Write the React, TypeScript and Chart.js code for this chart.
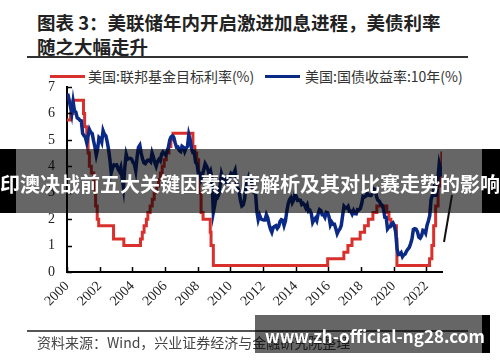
import React, { useEffect, useRef } from "react";
import { Chart, registerables } from "chart.js";

Chart.register(...registerables);

// ---------- text ----------
const titleLines = ["图表 3：美联储年内开启激进加息进程，美债利率", "随之大幅走升"];
const legendLabels = ["美国:联邦基金目标利率(%)", "美国:国债收益率:10年(%)"];
const sourceText = "资料来源：Wind，兴业证券经济与金融研究院整理";
const bannerText = "印澳决战前五大关键因素深度解析及其对比赛走势的影响";
const watermarkText = "www.zh-official-ng28.com";

// ---------- axes ----------
const xMin = 2000;
const xMax = 2022.96;
const xStep = 2;
const yTickValues = [0, 1, 2, 3, 4, 5, 6, 7];

// ---------- Fed funds target rate (upper bound), change dates as decimal years ----------
const fedDates = [
  2000.0, 2000.22, 2000.37, 2001.01, 2001.08, 2001.21, 2001.29, 2001.37, 2001.49, 2001.64,
  2001.71, 2001.75, 2001.85, 2001.94, 2002.85, 2003.48, 2004.5, 2004.61, 2004.72, 2004.86,
  2004.95, 2005.09, 2005.22, 2005.34, 2005.49, 2005.6, 2005.72, 2005.83, 2005.95, 2006.08,
  2006.24, 2006.36, 2006.49, 2007.71, 2007.83, 2007.94, 2008.06, 2008.08, 2008.21, 2008.33,
  2008.77, 2008.82, 2008.96, 2015.96, 2016.95, 2017.2, 2017.45, 2017.95, 2018.22, 2018.45,
  2018.73, 2018.97, 2019.58, 2019.71, 2019.83, 2020.17, 2020.2, 2022.2, 2022.34, 2022.45,
  2022.57, 2022.72, 2022.84, 2022.95,
];
const fedRates = [
  5.75, 6.0, 6.5, 6.0, 5.5, 5.0, 4.5, 4.0, 3.75, 3.5,
  3.0, 2.5, 2.0, 1.75, 1.25, 1.0, 1.25, 1.5, 1.75, 2.0,
  2.25, 2.5, 2.75, 3.0, 3.25, 3.5, 3.75, 4.0, 4.25, 4.5,
  4.75, 5.0, 5.25, 4.75, 4.5, 4.25, 3.5, 3.0, 2.25, 2.0,
  1.5, 1.0, 0.25, 0.5, 0.75, 1.0, 1.25, 1.5, 1.75, 2.0,
  2.25, 2.5, 2.25, 2.0, 1.75, 1.25, 0.25, 0.5, 1.0, 1.75,
  2.5, 3.25, 4.0, 4.5,
];

// ---------- 10-year Treasury yield, monthly ----------
const yieldStartYear = 2000;
const yield10y = [
  // 2000
  6.75, 6.52, 6.26, 5.99, 6.44, 6.1, 6.05, 5.83, 5.8, 5.74, 5.72, 5.24,
  // 2001
  5.16, 5.1, 4.89, 5.14, 5.39, 5.28, 5.24, 4.97, 4.73, 4.42, 4.65, 5.09,
  // 2002
  5.04, 4.91, 5.35, 5.21, 5.16, 4.93, 4.65, 4.26, 3.75, 3.94, 4.05, 4.03,
  // 2003
  4.05, 3.9, 3.81, 3.96, 3.57, 3.2, 3.98, 4.45, 4.27, 4.29, 4.3, 4.27,
  // 2004
  4.15, 4.08, 3.83, 4.35, 4.72, 4.8, 4.5, 4.28, 4.13, 4.1, 4.19, 4.23,
  // 2005
  4.22, 4.17, 4.5, 4.34, 4.14, 4.0, 4.18, 4.26, 4.2, 4.46, 4.54, 4.47,
  // 2006
  4.42, 4.57, 4.72, 4.99, 5.11, 5.15, 5.09, 4.88, 4.72, 4.73, 4.6, 4.56,
  // 2007
  4.76, 4.72, 4.56, 4.69, 4.75, 5.2, 5.0, 4.67, 4.52, 4.53, 4.15, 4.1,
  // 2008
  3.74, 3.74, 3.51, 3.68, 3.88, 4.1, 4.01, 3.89, 3.69, 3.81, 3.53, 2.25,
  // 2009
  2.52, 2.87, 2.82, 2.93, 3.29, 3.72, 3.56, 3.59, 3.4, 3.39, 3.4, 3.59,
  // 2010
  3.73, 3.69, 3.73, 3.85, 3.42, 3.2, 3.01, 2.7, 2.5, 2.54, 2.76, 3.29,
  // 2011
  3.39, 3.58, 3.41, 3.46, 3.17, 3.0, 3.0, 2.3, 1.98, 2.15, 2.01, 1.98,
  // 2012
  1.97, 1.97, 2.17, 2.05, 1.8, 1.62, 1.5, 1.68, 1.72, 1.75, 1.65, 1.72,
  // 2013
  1.91, 1.98, 1.96, 1.76, 1.93, 2.3, 2.58, 2.74, 2.81, 2.62, 2.72, 2.95,
  // 2014
  2.86, 2.71, 2.72, 2.71, 2.56, 2.6, 2.54, 2.42, 2.53, 2.3, 2.33, 2.21,
  // 2015
  1.88, 1.98, 2.04, 1.94, 2.2, 2.36, 2.32, 2.17, 2.17, 2.07, 2.26, 2.24,
  // 2016
  2.09, 1.78, 1.89, 1.81, 1.81, 1.64, 1.45, 1.56, 1.63, 1.76, 2.14, 2.49,
  // 2017
  2.43, 2.42, 2.48, 2.3, 2.3, 2.19, 2.32, 2.21, 2.2, 2.36, 2.35, 2.4,
  // 2018
  2.58, 2.86, 2.84, 2.87, 2.98, 2.91, 2.89, 2.89, 3.0, 3.15, 3.12, 2.83,
  // 2019
  2.71, 2.68, 2.57, 2.53, 2.4, 2.07, 2.06, 1.63, 1.7, 1.71, 1.81, 1.86,
  // 2020
  1.76, 1.5, 0.87, 0.66, 0.67, 0.73, 0.58, 0.65, 0.68, 0.79, 0.87, 0.93,
  // 2021
  1.08, 1.26, 1.61, 1.64, 1.62, 1.52, 1.32, 1.28, 1.37, 1.58, 1.56, 1.47,
  // 2022
  1.76, 1.93, 2.13, 2.75, 2.9, 3.14, 2.9, 2.9, 3.52, 4.1, 3.89, 3.62,
];

const RED = "#d8302c";
const BLUE = "#0b2a86";

const innerTicks = {
  id: "innerTicks",
  afterDraw(chart: any) {
    const { ctx, chartArea, scales } = chart;
    const x = scales.x;
    const y = scales.y;
    ctx.save();
    ctx.strokeStyle = "#000";
    ctx.lineWidth = 1.5;
    x.ticks.forEach((t: any) => {
      const px = Math.round(x.getPixelForValue(t.value)) + 0.5;
      ctx.beginPath();
      ctx.moveTo(px, chartArea.bottom);
      ctx.lineTo(px, chartArea.bottom - 5);
      ctx.stroke();
    });
    y.ticks.forEach((t: any) => {
      const py = Math.round(y.getPixelForValue(t.value)) + 0.5;
      ctx.beginPath();
      ctx.moveTo(chartArea.left, py);
      ctx.lineTo(chartArea.left + 5, py);
      ctx.stroke();
    });
    ctx.restore();
  },
};

function ChartCanvas() {
  const ref = useRef<HTMLCanvasElement | null>(null);
  useEffect(() => {
    if (!ref.current) return;
    const fedPoints = fedDates.map((d, i) => ({ x: d, y: fedRates[i] }));
    fedPoints.push({ x: xMax, y: fedRates[fedRates.length - 1] });
    const yieldPoints = yield10y.map((v, i) => ({
      x: yieldStartYear + Math.floor(i / 12) + ((i % 12) + 0.5) / 12,
      y: v,
    }));
    const tickFont = { family: "'Liberation Serif', 'Times New Roman', serif", size: 14 };
    const chart = new Chart(ref.current, {
      type: "line",
      data: {
        datasets: [
          {
            label: legendLabels[0],
            data: fedPoints,
            borderColor: RED,
            backgroundColor: RED,
            borderWidth: 3,
            pointRadius: 0,
            stepped: true,
            order: 1,
          },
          {
            label: legendLabels[1],
            data: yieldPoints,
            borderColor: BLUE,
            backgroundColor: BLUE,
            borderWidth: 3.5,
            pointRadius: 0,
            tension: 0,
            order: 0,
          },
        ],
      },
      options: {
        animation: false,
        responsive: false,
        maintainAspectRatio: false,
        events: [],
        layout: { padding: { left: 27, right: 58, top: 87, bottom: 45 } },
        plugins: { legend: { display: false }, tooltip: { enabled: false } },
        scales: {
          x: {
            type: "linear",
            min: xMin,
            max: xMax,
            grid: { display: false, drawTicks: false },
            border: { display: true, color: "#000", width: 2 },
            ticks: {
              stepSize: xStep,
              includeBounds: false,
              autoSkip: false,
              maxRotation: 45,
              minRotation: 45,
              padding: 6,
              color: "#222",
              font: tickFont,
              callback: (v: any) => String(v),
            },
            afterFit: (s: any) => {
              s.height = 45;
            },
          },
          y: {
            type: "linear",
            min: yTickValues[0],
            max: yTickValues[yTickValues.length - 1],
            grid: { display: false, drawTicks: false },
            border: { display: true, color: "#000", width: 2 },
            ticks: {
              stepSize: 1,
              padding: 12,
              color: "#222",
              font: tickFont,
              callback: (v: any) => String(v),
            },
            afterFit: (s: any) => {
              s.width = 40;
            },
          },
        },
      },
      plugins: [innerTicks],
    } as any);
    return () => chart.destroy();
  }, []);
  return (
    <canvas
      ref={ref}
      width={500}
      height={362}
      style={{ position: "absolute", left: 0, top: 0, width: 500, height: 362 }}
    />
  );
}

export default function App() {
  const cjk = "'Noto Sans CJK SC', 'Noto Sans', sans-serif";
  return (
    <div
      style={{
        position: "absolute",
        left: 0,
        top: 0,
        width: 500,
        height: 362,
        background: "#fff",
        overflow: "hidden",
        fontFamily: cjk,
      }}
    >
      <div
        style={{
          position: "absolute",
          left: 37,
          top: 10,
          fontSize: 18.5,
          lineHeight: "24px",
          fontWeight: 700,
          color: "#222",
          whiteSpace: "nowrap",
        }}
      >
        {titleLines.map((l) => (
          <div key={l}>{l}</div>
        ))}
      </div>
      <div style={{ position: "absolute", left: 27, top: 56, width: 441, height: 1.5, background: "#333" }} />

      {/* legend */}
      <div style={{ position: "absolute", left: 50, top: 75, width: 35, height: 3, background: RED }} />
      <div style={{ position: "absolute", left: 88, top: 67, fontSize: 14, lineHeight: "18px", color: "#333", whiteSpace: "nowrap" }}>
        {legendLabels[0]}
      </div>
      <div style={{ position: "absolute", left: 265, top: 75, width: 35, height: 3, background: BLUE }} />
      <div style={{ position: "absolute", left: 305, top: 67, fontSize: 14, lineHeight: "18px", color: "#333", whiteSpace: "nowrap" }}>
        {legendLabels[1]}
      </div>

      <ChartCanvas />

      {/* footer */}
      <div style={{ position: "absolute", left: 27, top: 330, width: 441, height: 1.5, background: "#555" }} />
      <div style={{ position: "absolute", left: 37, top: 333, fontSize: 14, lineHeight: "18px", color: "#444", whiteSpace: "nowrap" }}>
        {sourceText}
      </div>

      {/* banner overlay */}
      <div style={{ position: "absolute", left: 0, top: 149, width: 16, height: 64, background: "#000" }} />
      <div style={{ position: "absolute", left: 16, top: 149, width: 466, height: 64, background: "rgba(0,0,0,0.6)" }} />
      <div style={{ position: "absolute", left: 482, top: 149, width: 18, height: 64, background: "#000" }} />
      <div
        style={{
          position: "absolute",
          left: -50,
          width: 600,
          top: 171,
          height: 26,
          lineHeight: "26px",
          textAlign: "center",
          fontSize: 20,
          fontWeight: 700,
          color: "#fff",
          whiteSpace: "nowrap",
        }}
      >
        {bannerText}
      </div>

      {/* watermark */}
      <div style={{ position: "absolute", left: 255, top: 315, width: 227, height: 38, background: "rgba(0,0,0,0.6)" }} />
      <div style={{ position: "absolute", left: 482, top: 315, width: 8, height: 38, background: "#000" }} />
      <div
        style={{
          position: "absolute",
          left: 265,
          top: 324,
          lineHeight: "24px",
          fontSize: 17,
          fontWeight: 700,
          color: "#fff",
          whiteSpace: "nowrap",
        }}
      >
        {watermarkText}
      </div>

      <svg width={500} height={362} style={{ position: "absolute", left: 0, top: 0 }}>
        <line x1={452} y1={195} x2={444} y2={242} stroke="#111" strokeWidth={2} />
      </svg>
    </div>
  );
}
